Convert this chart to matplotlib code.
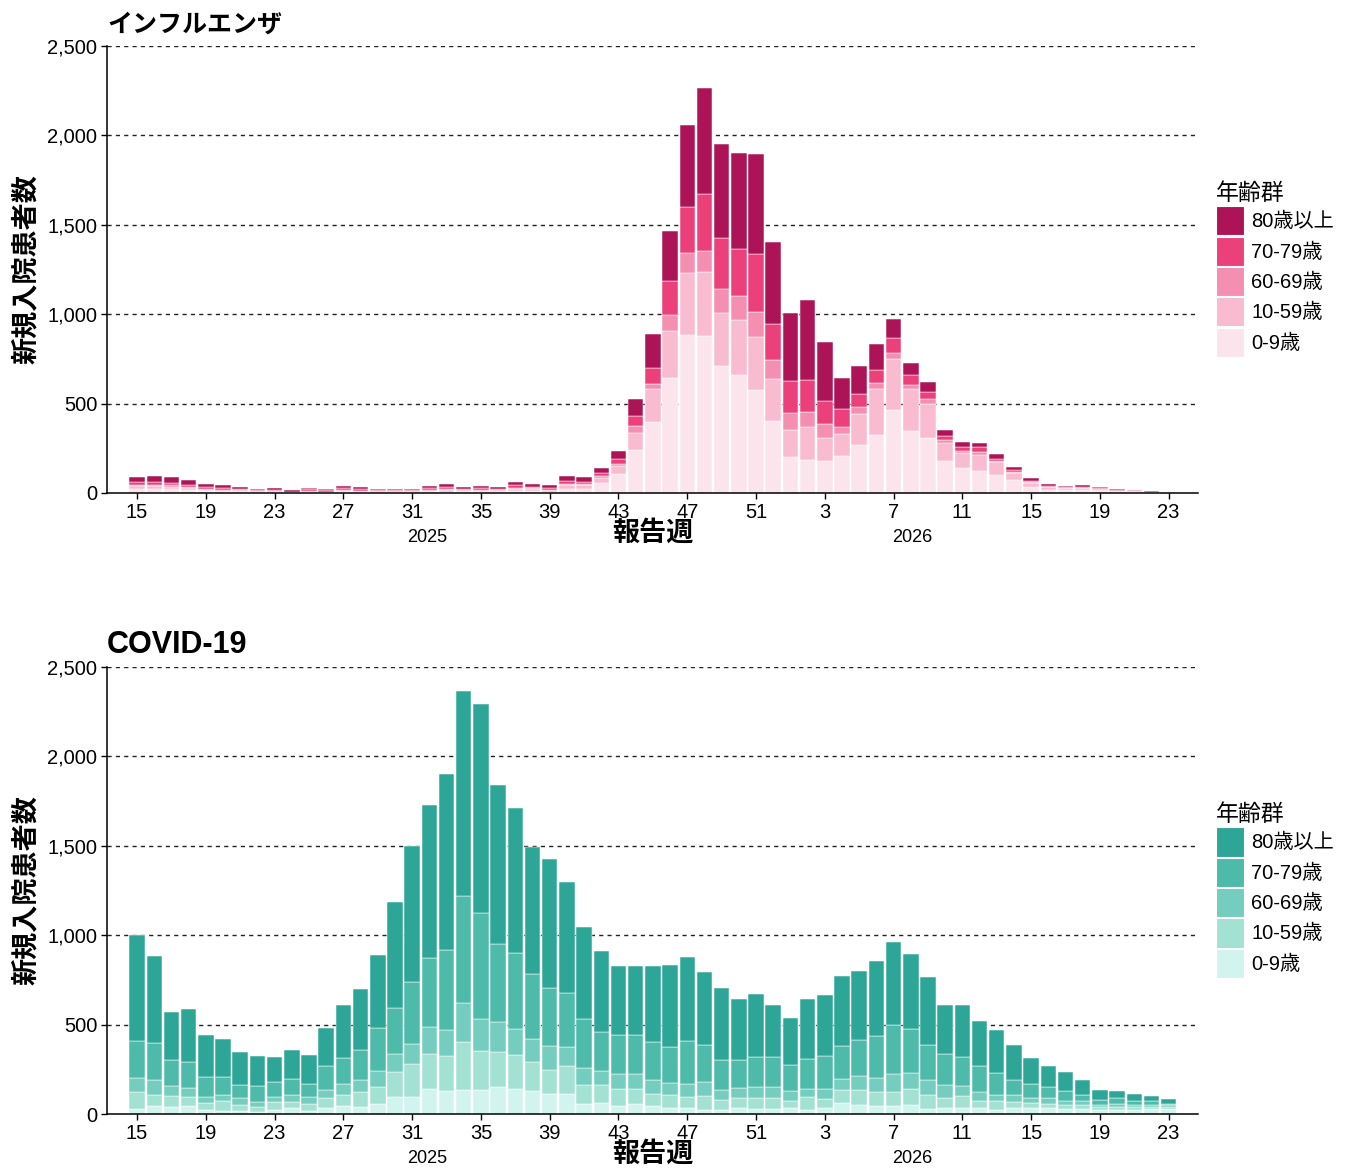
import matplotlib
matplotlib.use('Agg')
import matplotlib.pyplot as plt
from matplotlib.patches import Patch
from matplotlib.ticker import FuncFormatter
import numpy as np

plt.rcParams['font.family'] = ['Liberation Sans', 'Noto Sans CJK JP']

# report weeks: 2025 wk15-52, 2026 wk1-23
weeks = list(range(15, 53)) + list(range(1, 24))
age_groups = ['0-9歳', '10-59歳', '60-69歳', '70-79歳', '80歳以上']

# influenza, new admissions by age group
flu_0_9 = [22, 22, 20, 14, 9, 6, 5, 3, 3, 1, 3, 2, 5, 4, 3, 3, 3, 5, 6, 4, 5, 5, 10, 9, 6,
           20, 20, 55, 108, 239, 396, 644, 886, 877, 709, 662, 577, 403,
           200, 187, 179, 205, 269, 325, 465, 347, 308, 177, 142, 121, 99, 71, 32, 18, 14, 14,
           10, 5, 5, 1, 2]
flu_10_59 = [15, 16, 15, 12, 9, 7, 5, 4, 5, 2, 5, 3, 6, 5, 4, 4, 4, 6, 8, 6, 7, 6, 14, 12, 8,
             22, 22, 28, 45, 99, 185, 261, 343, 358, 300, 308, 293, 237,
             151, 181, 131, 127, 174, 257, 284, 235, 188, 103, 82, 91, 73, 39, 24, 14, 12, 12,
             9, 5, 5, 1, 1]
flu_60_69 = [8, 8, 9, 8, 6, 5, 4, 4, 4, 2, 5, 3, 5, 4, 3, 3, 3, 5, 6, 4, 5, 5, 6, 5, 5,
             8, 8, 10, 11, 35, 28, 90, 112, 116, 131, 132, 140, 103,
             95, 86, 73, 39, 37, 35, 32, 24, 30, 15, 11, 19, 7, 7, 6, 4, 4, 4,
             3, 2, 2, 1, 1]
flu_70_79 = [15, 17, 14, 12, 9, 8, 8, 5, 6, 3, 8, 6, 12, 9, 6, 6, 6, 9, 12, 8, 9, 8, 12, 10, 10,
             15, 14, 18, 24, 56, 90, 190, 256, 321, 285, 265, 325, 202,
             181, 177, 132, 99, 71, 69, 84, 52, 37, 22, 20, 24, 11, 9, 6, 5, 5, 6,
             4, 3, 3, 2, 1]
flu_80 = [30, 30, 30, 25, 17, 17, 12, 4, 8, 7, 9, 6, 13, 10, 8, 8, 8, 12, 18, 10, 11, 8, 18, 12, 14,
          28, 26, 27, 45, 95, 188, 281, 459, 590, 526, 532, 560, 457,
          381, 448, 327, 175, 157, 146, 108, 69, 60, 34, 28, 26, 26, 17, 13, 8, 6, 7,
          6, 5, 4, 4, 2]

# COVID-19, new admissions by age group
covid_0_9 = [28, 43, 39, 43, 24, 19, 15, 11, 22, 34, 19, 35, 43, 41, 58, 97, 93, 140, 131, 136,
             136, 153, 142, 131, 112, 114, 54, 60, 47, 54, 43, 35, 35, 24, 22, 32, 30, 30,
             35, 24, 34, 62, 52, 47, 47, 52, 30, 35, 35, 32, 24, 35, 34, 32, 28, 28, 24, 22,
             22, 26, 30]
covid_10_59 = [95, 65, 63, 50, 39, 56, 37, 30, 45, 35, 37, 56, 65, 84, 95, 140, 188, 198, 194, 269,
               215, 196, 188, 159, 134, 153, 110, 101, 95, 88, 71, 73, 60, 78, 58, 56, 60, 60,
               39, 71, 52, 71, 84, 78, 78, 88, 76, 56, 67, 43, 50, 30, 28, 26, 24, 24, 17, 19,
               17, 15, 11]
covid_60_69 = [76, 84, 56, 50, 34, 34, 39, 24, 30, 39, 37, 41, 58, 67, 88, 101, 108, 149, 147, 218,
               183, 168, 144, 132, 132, 106, 93, 82, 84, 84, 78, 67, 73, 78, 56, 56, 62, 60,
               56, 47, 54, 63, 77, 77, 101, 91, 84, 71, 54, 49, 35, 43, 28, 30, 22, 19, 11, 15,
               11, 9, 7]
covid_70_79 = [211, 205, 142, 149, 112, 101, 73, 90, 84, 90, 77, 136, 149, 168, 243, 256, 351, 383,
               446, 599, 588, 435, 427, 364, 328, 304, 276, 215, 218, 218, 213, 202, 243, 205, 164,
               160, 168, 168,
               146, 166, 185, 187, 201, 235, 271, 244, 196, 174, 164, 147, 119, 84, 77, 62, 56, 37,
               26, 32, 21, 21, 9]
covid_80 = [591, 487, 272, 293, 235, 207, 181, 170, 136, 160, 160, 213, 297, 341, 403, 590, 759,
            858, 983, 1142, 1170, 890, 808, 705, 718, 621, 513, 455, 386, 386, 424, 459, 470, 410,
            403, 340, 353, 291,
            261, 336, 341, 390, 384, 420, 466, 420, 381, 276, 291, 248, 244, 192, 146, 119, 104, 80,
            58, 43, 41, 32, 30]

flu_colors = ['#FCE4EC', '#F8BBD0', '#F48FB1', '#EC407A', '#AD1457']
covid_colors = ['#D2F4EE', '#A3E1D2', '#74CDBE', '#4EBBAA', '#2EA697']


def draw_panel(ax, series, colors, title, title_size):
    x = np.arange(len(weeks))
    bottom = np.zeros(len(weeks))
    for vals, col in zip(series, colors):
        ax.bar(x, vals, bottom=bottom, width=0.9, color=col,
               edgecolor='white', linewidth=0.35, zorder=3)
        bottom += np.array(vals)

    ax.set_xlim(-1.75, 61.7)
    ax.set_ylim(0, 2500)
    ax.set_yticks([0, 500, 1000, 1500, 2000, 2500])
    ax.yaxis.set_major_formatter(FuncFormatter(lambda v, p: f'{int(v):,}'))
    ax.set_xticks(x[::4])
    ax.set_xticklabels([str(w) for w in weeks[::4]])
    ax.tick_params(axis='both', labelsize=14.5, length=4, width=1, pad=3, colors='black')

    for yv in [500, 1000, 1500, 2000, 2500]:
        ax.axhline(yv, color='#222222', linestyle=(0, (3, 3)), linewidth=1.0, zorder=1)

    for s in ['top', 'right']:
        ax.spines[s].set_visible(False)
    for s in ['left', 'bottom']:
        ax.spines[s].set_linewidth(1.1)
        ax.spines[s].set_zorder(4)

    ax.set_title(title, loc='left', fontsize=title_size, fontweight='bold', pad=10)
    ax.set_xlabel('報告週', fontsize=19.5, fontweight='bold', labelpad=-1)
    ax.set_ylabel('新規入院患者数', fontsize=19.5, fontweight='bold', labelpad=5)

    # year labels under the week ticks
    ax.text(16.9, -0.1, '2025', transform=ax.get_xaxis_transform(),
            ha='center', va='center', fontsize=13)
    ax.text(45.1, -0.1, '2026', transform=ax.get_xaxis_transform(),
            ha='center', va='center', fontsize=13)

    handles = [Patch(facecolor=c, edgecolor='white', linewidth=0.8) for c in colors[::-1]]
    ax.legend(handles, age_groups[::-1], title='年齢群', loc='center left',
              bbox_to_anchor=(1.0165, 0.5), frameon=False, fontsize=14.5,
              title_fontsize=16.5, handlelength=1.4, handleheight=1.85,
              labelspacing=0.06, handletextpad=0.35, borderpad=0,
              borderaxespad=0, alignment='left')


fig = plt.figure(figsize=(13.49, 11.69), dpi=100)
ax1 = fig.add_axes([0.0793, 0.5783, 0.8087, 0.3824])
ax2 = fig.add_axes([0.0793, 0.0470, 0.8087, 0.3824])

draw_panel(ax1, [flu_0_9, flu_10_59, flu_60_69, flu_70_79, flu_80], flu_colors,
           'インフルエンザ', 18)
draw_panel(ax2, [covid_0_9, covid_10_59, covid_60_69, covid_70_79, covid_80], covid_colors,
           'COVID-19', 22)

fig.savefig('out.png', dpi=100)
